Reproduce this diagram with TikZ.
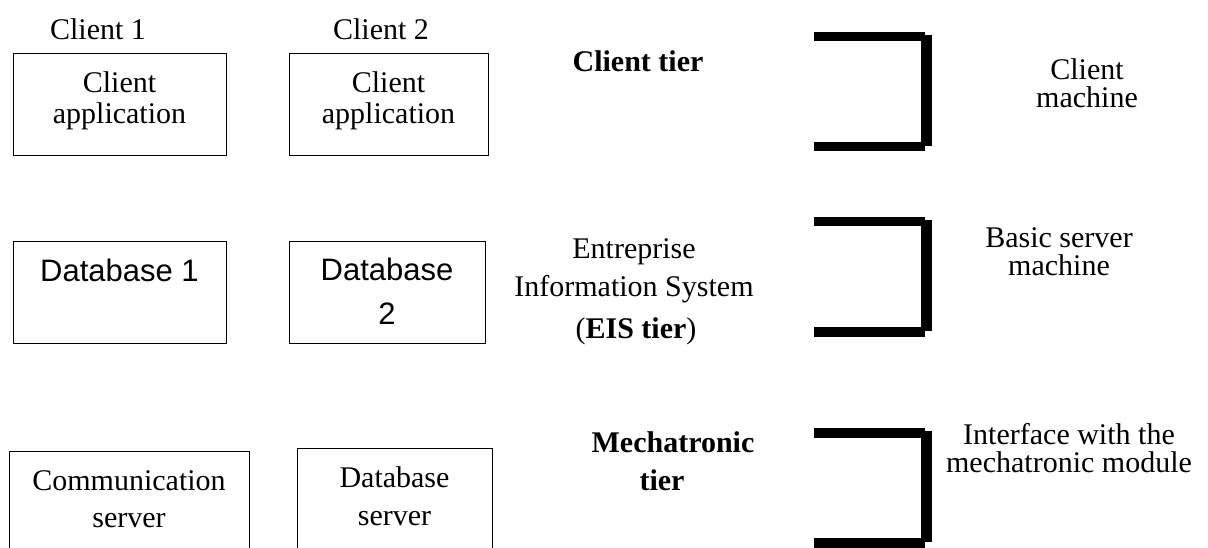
\documentclass[tikz,border=0pt]{standalone}
\usepackage{fontspec}
\setmainfont{Liberation Serif}
\newfontfamily\arialfont{Liberation Sans}
\begin{document}
\begin{tikzpicture}[x=1pt,y=-1pt,
  txt/.style={inner sep=0pt, anchor=base, font=\fontsize{30}{34}\selectfont},
  btxt/.style={inner sep=0pt, anchor=base, font=\fontsize{30}{34}\selectfont\bfseries},
  atxt/.style={inner sep=0pt, anchor=base, font=\fontsize{31}{36}\selectfont\arialfont},
  box/.style={draw, line width=1.4pt, inner sep=0pt, anchor=north west}
]
\useasboundingbox (0,0) rectangle (1208,548);
\clip (0,0) rectangle (1208,548);

% brackets
\foreach \yy in {32,217,428} {
  \fill (814,\yy) rectangle (925,\yy+9.5);
  \fill (921,\yy+3) rectangle (932,\yy+114);
  \fill (814,\yy+110) rectangle (925,\yy+119.5);
}

% row 1 : client tier
\node[txt] (c1lbl) at (98,40) {Client 1};
\node[txt] (c2lbl) at (381,40) {Client 2};
\node[box, minimum width=213pt, minimum height=102pt] (ca1) at (13,53) {};
\node[txt] (ca1a) at (119.5,93) {Client};
\node[txt] (ca1b) at (119.5,124) {application};
\node[box, minimum width=199pt, minimum height=102pt] (ca2) at (289,53) {};
\node[txt] (ca2a) at (388.5,93) {Client};
\node[txt] (ca2b) at (388.5,124) {application};
\node[btxt] (ctier) at (638,72) {Client tier};
\node[txt] (cm1) at (1087,80) {Client};
\node[txt] (cm2) at (1087,108) {machine};

% row 2 : EIS tier
\node[box, minimum width=213pt, minimum height=102pt] (db1) at (13,241) {};
\node[atxt] (db1a) at (119.5,282) {Database 1};
\node[box, minimum width=196pt, minimum height=102pt] (db2) at (289,241) {};
\node[atxt] (db2a) at (387,280) {Database};
\node[atxt] (db2b) at (387,324) {2};
\node[txt] (eis1) at (634,259) {Entreprise};
\node[txt] (eis2) at (634,297) {Information System};
\node[txt] (eis3) at (636,338) {(\textbf{EIS tier})};
\node[txt] (bs1) at (1059,248) {Basic server};
\node[txt] (bs2) at (1059,276) {machine};

% row 3 : mechatronic tier
\node[box, minimum width=240pt, minimum height=150pt] (cs) at (9,451) {};
\node[txt] (csa) at (129,490) {Communication};
\node[txt] (csb) at (129,527) {server};
\node[box, minimum width=195pt, minimum height=150pt] (dbs) at (297,448) {};
\node[txt] (dbsa) at (394.5,487) {Database};
\node[txt] (dbsb) at (394.5,525) {server};
\node[btxt] (mt1) at (673,452) {Mechatronic};
\node[btxt] (mt2) at (662,490) {tier};
\node[txt] (if1) at (1069,444) {Interface with the};
\node[txt] (if2) at (1069,472) {mechatronic module};
\end{tikzpicture}
\end{document}
